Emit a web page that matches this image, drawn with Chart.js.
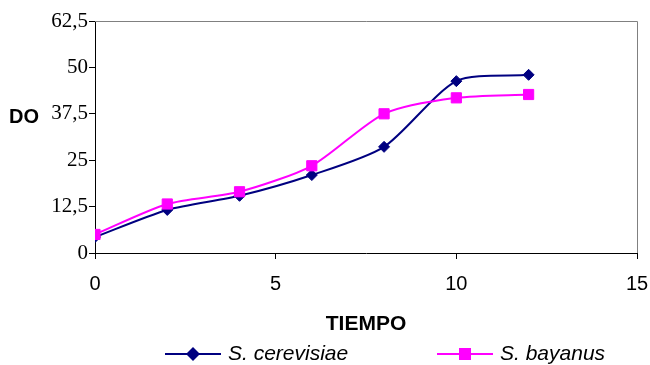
<!DOCTYPE html>
<html>
<head>
<meta charset="utf-8">
<script src="https://cdn.jsdelivr.net/npm/chart.js@4"></script>
<style>
  body { margin: 0; background: #fff; }
</style>
</head>
<body>
<canvas id="grafico" width="650" height="365"></canvas>
<script>
// tiempo (eje x) y DO medida para cada levadura
var tiempo = [0, 2, 4, 6, 8, 10, 12];
var cerevisiae = [4.3, 11.6, 15.4, 21.0, 28.6, 46.3, 48.0];
var bayanus = [5.0, 13.2, 16.5, 23.5, 37.5, 41.8, 42.7];
var nombres = ['S. cerevisiae', 'S. bayanus'];

var azul = '#000080';
var magenta = '#FF00FF';
var sans = '"Liberation Sans", Arial, sans-serif';
var serif = '"Liberation Serif", "Times New Roman", serif';

function puntos(valores) {
  return tiempo.map(function (t, i) { return { x: t, y: valores[i] }; });
}

// marco gris arriba y a la derecha del area de trazado
var marco = {
  id: 'marco',
  beforeDatasetsDraw: function (chart) {
    var a = chart.chartArea, ctx = chart.ctx;
    ctx.save();
    ctx.strokeStyle = '#808080';
    ctx.lineWidth = 1;
    ctx.beginPath();
    ctx.moveTo(Math.round(a.left), Math.round(a.top) + 0.5);
    ctx.lineTo(Math.round(a.right) + 0.5, Math.round(a.top) + 0.5);
    ctx.lineTo(Math.round(a.right) + 0.5, Math.round(a.bottom));
    ctx.stroke();
    ctx.restore();
  }
};

// leyenda abajo (linea + marcador) y titulo "DO" horizontal
var leyenda = {
  id: 'leyenda',
  afterDraw: function (chart) {
    var ctx = chart.ctx;
    var y = 354;
    var inicios = [165, 437];
    ctx.save();
    chart.data.datasets.forEach(function (ds, i) {
      var x0 = inicios[i], x1 = x0 + 56, xm = (x0 + x1) / 2;
      ctx.strokeStyle = ds.borderColor;
      ctx.lineWidth = 2;
      ctx.beginPath();
      ctx.moveTo(x0, y);
      ctx.lineTo(x1, y);
      ctx.stroke();
      ctx.fillStyle = ds.backgroundColor;
      ctx.beginPath();
      if (ds.pointStyle === 'rectRot') {
        var r = 7;
        ctx.moveTo(xm - r, y);
        ctx.lineTo(xm, y - r);
        ctx.lineTo(xm + r, y);
        ctx.lineTo(xm, y + r);
        ctx.closePath();
      } else {
        ctx.rect(xm - 6, y - 6, 12, 12);
      }
      ctx.fill();
      ctx.fillStyle = '#000';
      ctx.font = 'italic 21px ' + sans;
      ctx.textAlign = 'left';
      ctx.textBaseline = 'middle';
      ctx.fillText(ds.label, x1 + 7, y);
    });
    ctx.font = 'bold 20px ' + sans;
    ctx.fillStyle = '#000';
    ctx.textAlign = 'left';
    ctx.textBaseline = 'middle';
    ctx.fillText('DO', 9, 117);
    ctx.restore();
  }
};

new Chart(document.getElementById('grafico'), {
  type: 'line',
  data: {
    datasets: [{
      label: nombres[0],
      data: puntos(cerevisiae),
      borderColor: azul,
      backgroundColor: azul,
      borderWidth: 2,
      pointStyle: 'rectRot',
      pointRadius: 5.5,
      pointBorderWidth: 1,
      tension: 0.25,
      order: 2
    }, {
      label: nombres[1],
      data: puntos(bayanus),
      borderColor: magenta,
      backgroundColor: magenta,
      borderWidth: 2,
      pointStyle: 'rect',
      pointRadius: 7.2,
      pointBorderWidth: 1,
      tension: 0.25,
      order: 1
    }]
  },
  options: {
    responsive: false,
    animation: false,
    devicePixelRatio: 1,
    layout: { padding: { top: 21, right: 13, bottom: 0, left: 0 } },
    plugins: {
      legend: { display: false },
      tooltip: { enabled: false }
    },
    scales: {
      x: {
        type: 'linear',
        min: 0,
        max: 15,
        ticks: { stepSize: 5, padding: 13, color: '#000', font: { family: sans, size: 20 } },
        grid: { drawOnChartArea: false, tickLength: 6, color: '#000' },
        border: { color: '#000' },
        title: {
          display: true,
          text: 'TIEMPO',
          color: '#000',
          font: { family: sans, size: 21, weight: 'bold' },
          padding: { top: 0, bottom: 28 }
        },
        afterFit: function (s) {
          s.height = 112;
          s.paddingLeft = 0;
          s.paddingRight = 0;
        }
      },
      y: {
        min: 0,
        max: 62.5,
        ticks: {
          stepSize: 12.5,
          padding: 1,
          color: '#000',
          font: { family: serif, size: 21 },
          callback: function (v) { return String(v).replace('.', ','); }
        },
        grid: { drawOnChartArea: false, tickLength: 6, color: '#000' },
        border: { color: '#000' },
        afterFit: function (s) {
          s.width = 95;
          s.paddingTop = 0;
          s.paddingBottom = 0;
        }
      }
    }
  },
  plugins: [marco, leyenda]
});
</script>
</body>
</html>
